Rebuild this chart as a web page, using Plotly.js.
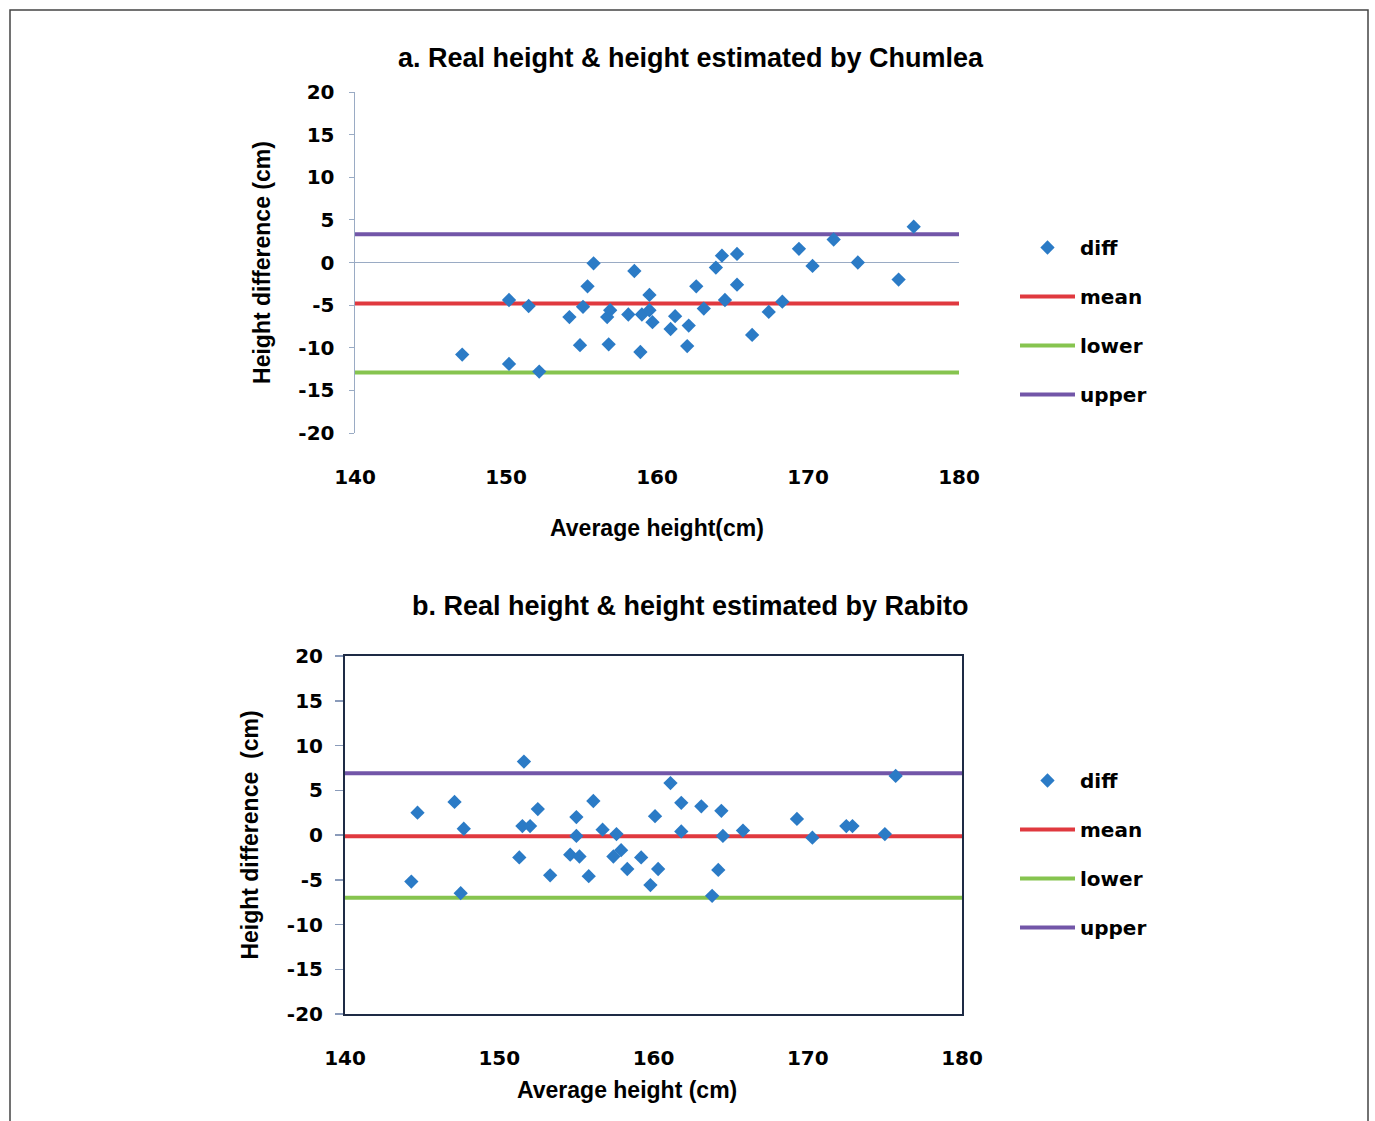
<!DOCTYPE html>
<html>
<head>
<meta charset="utf-8">
<script src="https://cdn.plot.ly/plotly-3.0.1.min.js"></script>
<style>html,body{margin:0;padding:0;background:#fff;}#chart{width:1375px;height:1121px;}</style>
</head>
<body>
<div id="chart"></div>
<script>
// Chart a: Chumlea
const xA = [147.1,150.2,150.2,151.5,152.2,154.2,154.9,155.1,155.4,155.8,156.7,156.8,156.9,158.1,158.5,158.9,159.0,159.5,159.5,159.7,160.9,161.2,162.0,162.1,162.6,163.1,163.9,164.3,164.5,165.3,165.3,166.3,167.4,168.3,169.4,170.3,171.7,173.3,176.0,177.0];
const yA = [-10.8,-4.4,-11.9,-5.1,-12.8,-6.4,-9.7,-5.2,-2.8,-0.1,-6.4,-9.6,-5.6,-6.1,-1.0,-10.5,-6.1,-3.8,-5.6,-7.0,-7.8,-6.3,-9.8,-7.4,-2.8,-5.4,-0.6,0.8,-4.4,1.0,-2.6,-8.5,-5.8,-4.6,1.6,-0.4,2.7,0.0,-2.0,4.2];
const meanA = -4.8, lowerA = -12.9, upperA = 3.3;

// Chart b: Rabito
const xB = [144.3,144.7,147.1,147.5,147.7,151.3,151.5,151.6,152.0,152.5,153.3,154.6,155.0,155.0,155.2,155.8,156.1,156.7,157.4,157.6,157.9,158.3,159.2,159.8,160.1,160.3,161.1,161.8,161.8,163.1,163.8,164.2,164.4,164.5,165.8,169.3,170.3,172.5,172.9,175.0,175.7];
const yB = [-5.2,2.5,3.7,-6.5,0.7,-2.5,1.0,8.2,1.0,2.9,-4.5,-2.2,2.0,-0.1,-2.4,-4.6,3.8,0.6,-2.4,0.1,-1.7,-3.8,-2.5,-5.6,2.1,-3.8,5.8,3.6,0.4,3.2,-6.8,-3.9,2.7,-0.1,0.5,1.8,-0.3,1.0,1.0,0.1,6.6];
const meanB = -0.15, lowerB = -7.0, upperB = 6.9;

const xRange = [140, 180];
const xTicks = [140, 150, 160, 170, 180];
const yTicks = [-20, -15, -10, -5, 0, 5, 10, 15, 20];
const yTickLabels = ['-20', '-15', '-10', '-5', '0', '5', '10', '15', '20'];
const seriesNames = ['diff', 'mean', 'lower', 'upper'];
const titleA = 'a. Real height & height estimated by Chumlea';
const titleB = 'b. Real height & height estimated by Rabito';
const xTitleA = 'Average height(cm)';
const xTitleB = 'Average height (cm)';

const C = {diff: '#2B7BC6', mean: '#E0393F', lower: '#86C44F', upper: '#7256A8'};
const W = 1375, H = 1121;
const px = v => v / W, py = v => 1 - v / H;

const NUM = 'DejaVu Sans, sans-serif';
const TXT = 'Liberation Sans, Arial, sans-serif';

function lineTrace(name, val, xa, ya, leg) {
  return {x: xRange, y: [val, val], mode: 'lines', name: name, xaxis: xa, yaxis: ya,
    legend: leg, legendgroup: name + leg, line: {color: C[name], width: 4}, hoverinfo: 'skip'};
}
function group(xs, ys, m, lo, up, xa, ya, leg) {
  return [
    lineTrace('mean', m, xa, ya, leg),
    lineTrace('lower', lo, xa, ya, leg),
    lineTrace('upper', up, xa, ya, leg),
    {x: xs, y: ys, mode: 'markers', name: seriesNames[0], xaxis: xa, yaxis: ya, legend: leg,
      legendgroup: 'diff' + leg, marker: {symbol: 'diamond', size: 11, color: C.diff}}
  ];
}
const data = [].concat(
  group(xA, yA, meanA, lowerA, upperA, 'x', 'y', 'legend'),
  group(xB, yB, meanB, lowerB, upperB, 'x2', 'y2', 'legend2')
);
data.forEach(t => { t.legendrank = seriesNames.indexOf(t.name) + 1; });

const tickFont = {family: NUM, size: 20, color: '#000', weight: 'bold'};
const axTitleFont = {family: TXT, size: 23, color: '#000', weight: 'bold'};
const legFont = {family: NUM, size: 20, color: '#000', weight: 'bold'};
const titleFont = {family: TXT, size: 27, color: '#000', weight: 'bold'};

const yDomA = [py(433), py(92)];
const yDomB = [py(1014), py(656)];

const layout = {
  width: W, height: H,
  margin: {l: 0, r: 0, t: 0, b: 0},
  paper_bgcolor: '#fff', plot_bgcolor: '#fff',
  showlegend: true,
  xaxis: {domain: [px(355), px(959)], anchor: 'y', range: xRange, tickvals: xTicks,
    showgrid: false, zeroline: false, showline: false, ticks: '', ticklabelstandoff: 30,
    tickfont: tickFont, title: {text: xTitleA, font: axTitleFont, standoff: 31}},
  xaxis3: {overlaying: 'x', anchor: 'free', position: py(262.5), range: xRange, tickvals: xTicks,
    showgrid: false, zeroline: false, showline: false, ticks: 'outside', ticklen: 8,
    tickcolor: '#9AABC4', tickwidth: 1.5, showticklabels: false},
  yaxis: {domain: yDomA, anchor: 'x', range: [-20, 20], tickvals: yTicks, ticktext: yTickLabels,
    showgrid: false, zeroline: true, zerolinecolor: '#9AABC4', zerolinewidth: 1.5,
    showline: true, linecolor: '#9AABC4', linewidth: 1.5, ticks: 'outside', ticklen: 5,
    tickcolor: '#9AABC4', tickfont: tickFont, ticklabelstandoff: 10,
    title: {text: 'Height difference (cm)', font: axTitleFont, standoff: 21}},
  xaxis2: {domain: [px(345), px(962)], anchor: 'y2', range: xRange, tickvals: xTicks,
    showgrid: false, zeroline: false, showline: true, mirror: true, linecolor: '#1E2B45', linewidth: 2,
    ticks: '', ticklabelstandoff: 25, tickfont: tickFont},
  xaxis4: {overlaying: 'x2', anchor: 'y2', side: 'top', range: xRange, tickvals: xTicks,
    showgrid: false, zeroline: false, showline: false, ticks: 'outside', ticklen: 7,
    tickcolor: '#8A9BBA', tickwidth: 1.5, showticklabels: false},
  yaxis2: {domain: yDomB, anchor: 'x2', range: [-20, 20], tickvals: yTicks, ticktext: yTickLabels,
    showgrid: false, zeroline: false, showline: true, mirror: true, linecolor: '#1E2B45', linewidth: 2,
    ticks: 'outside', ticklen: 8, tickcolor: '#8A9BBA', tickwidth: 1.5, tickfont: tickFont,
    ticklabelstandoff: 8,
    title: {text: 'Height difference  (cm)', font: axTitleFont, standoff: 22}},
  legend: {x: px(1015), y: py(228), xanchor: 'left', yanchor: 'top', font: legFont, itemwidth: 55,
    traceorder: 'grouped', tracegroupgap: 20, bgcolor: 'rgba(0,0,0,0)', borderwidth: 0},
  legend2: {x: px(1015), y: py(761), xanchor: 'left', yanchor: 'top', font: legFont, itemwidth: 55,
    traceorder: 'grouped', tracegroupgap: 20, bgcolor: 'rgba(0,0,0,0)', borderwidth: 0},
  annotations: [
    {text: titleA, xref: 'paper', yref: 'paper', x: px(691), y: py(58), xanchor: 'center', yanchor: 'middle',
      showarrow: false, font: titleFont},
    {text: titleB, xref: 'paper', yref: 'paper', x: px(690), y: py(606), xanchor: 'center', yanchor: 'middle',
      showarrow: false, font: titleFont},
    {text: xTitleB, xref: 'paper', yref: 'paper', x: px(627), y: py(1090), xanchor: 'center', yanchor: 'middle',
      showarrow: false, font: axTitleFont}
  ],
  shapes: [
    {type: 'rect', xref: 'paper', yref: 'paper', x0: px(10), x1: px(1368), y0: -0.02, y1: py(10),
      line: {color: '#444', width: 1.5}, fillcolor: 'rgba(0,0,0,0)'}
  ]
};

Plotly.newPlot('chart', data, layout, {staticPlot: true, displayModeBar: false});
</script>
</body>
</html>
